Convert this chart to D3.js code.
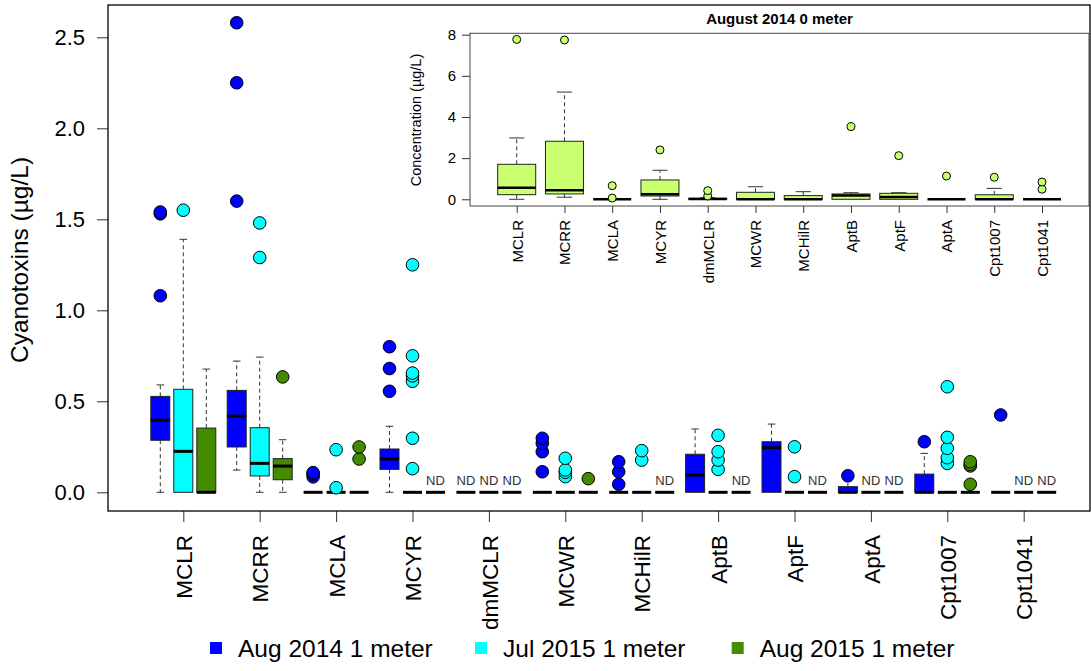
<!DOCTYPE html>
<html>
<head>
<meta charset="utf-8">
<script src="https://cdn.jsdelivr.net/npm/d3@7"></script>
<style>
  body { margin: 0; background: #fff; }
  svg { font-family: "Liberation Sans", Arial, sans-serif; }
</style>
</head>
<body>
<svg id="chart" width="1091" height="671"></svg>
<script>
// Cyanotoxin concentrations, grouped boxplots with an inset for the surface samples.

const toxins = ["MCLR", "MCRR", "MCLA", "MCYR", "dmMCLR", "MCWR", "MCHilR", "AptB", "AptF", "AptA", "Cpt1007", "Cpt1041"];
const seriesNames = ["Aug 2014 1 meter", "Jul 2015 1 meter", "Aug 2015 1 meter"];

// box stats: [lower whisker, q1, median, q3, upper whisker], null = ND
const aug2014Boxes = [
  [0, 0.286, 0.396, 0.527, 0.59],
  [0.122, 0.249, 0.419, 0.56, 0.721],
  [0, 0, 0, 0, 0],
  [0, 0.126, 0.183, 0.238, 0.363],
  null,
  [0, 0, 0, 0, 0],
  [0, 0, 0, 0, 0],
  [0, 0, 0.095, 0.209, 0.348],
  [0, 0, 0.245, 0.278, 0.375],
  [0, 0, 0, 0.031, 0.062],
  [0, 0, 0, 0.1, 0.214],
  [0, 0, 0, 0, 0]
];
const aug2014Outliers = [
  [1.08, 1.53, 1.54], [1.6, 2.25, 2.58], [0.085, 0.1, 0.108], [0.555, 0.68, 0.8], [],
  [0.113, 0.223, 0.269, 0.297], [0.044, 0.113, 0.168], [], [], [0.091], [0.278], [0.425]
];

const jul2015Boxes = [
  [0, 0, 0.225, 0.566, 1.39],
  [0, 0.09, 0.159, 0.355, 0.743],
  [0, 0, 0, 0, 0],
  [0, 0, 0, 0, 0],
  null,
  [0, 0, 0, 0, 0],
  [0, 0, 0, 0, 0],
  [0, 0, 0, 0, 0],
  [0, 0, 0, 0, 0],
  null,
  [0, 0, 0, 0, 0],
  null
];
const jul2015Outliers = [
  [1.55], [1.29, 1.48], [0.025, 0.234], [0.13, 0.297, 0.61, 0.64, 0.655, 0.75, 1.25], [],
  [0.086, 0.11, 0.123, 0.187], [0.177, 0.229], [0.126, 0.177, 0.223, 0.313], [0.086, 0.25], [],
  [0.159, 0.19, 0.242, 0.302, 0.58], []
];

const aug2015Boxes = [
  [0, 0, 0, 0.353, 0.677],
  [0, 0.069, 0.144, 0.185, 0.289],
  [0, 0, 0, 0, 0],
  null,
  null,
  [0, 0, 0, 0, 0],
  null,
  null,
  null,
  null,
  [0, 0, 0, 0, 0],
  null
];
const aug2015Outliers = [
  [], [0.634], [0.183, 0.249], [], [], [0.075], [], [], [], [], [0.044, 0.145, 0.154, 0.168], []
];

// inset: August 2014, 0 meter
const surfaceBoxes = [
  [0, 0.224, 0.565, 1.7, 2.98],
  [0.1, 0.26, 0.44, 2.82, 5.21],
  [0, 0, 0, 0, 0],
  [0, 0.16, 0.24, 0.94, 1.41],
  [0, 0, 0.02, 0.05, 0.08],
  [0, 0, 0, 0.34, 0.61],
  [0, 0, 0, 0.18, 0.37],
  [0, 0, 0.18, 0.26, 0.32],
  [0, 0, 0.11, 0.29, 0.32],
  [0, 0, 0, 0, 0],
  [0, 0, 0, 0.22, 0.53],
  [0, 0, 0, 0, 0]
];
const surfaceOutliers = [
  [7.77], [7.74], [0.06, 0.66], [2.4], [0.16, 0.42], [], [], [3.53], [2.12], [1.13], [1.07], [0.49, 0.84]
];

const mainTicks = [0, 0.5, 1, 1.5, 2, 2.5];
const insetTicks = [0, 2, 4, 6, 8];

const colors = ["#0000ff", "#00ffff", "#458b00"];
const insetColor = "#caff70";

const svg = d3.select("#chart");

const drawBox = (g, cx, w, s, y, fill, medW) => {
  const cap = w * 0.4;
  if (s[4] > s[3]) {
    g.append("line")
      .attr("x1", cx).attr("x2", cx)
      .attr("y1", y(s[3])).attr("y2", y(s[4]))
      .attr("stroke", "#333").attr("stroke-dasharray", "4,3");
    g.append("line")
      .attr("x1", cx - cap / 2).attr("x2", cx + cap / 2)
      .attr("y1", y(s[4])).attr("y2", y(s[4]))
      .attr("stroke", "#333");
  }
  if (s[0] < s[1]) {
    g.append("line")
      .attr("x1", cx).attr("x2", cx)
      .attr("y1", y(s[1])).attr("y2", y(s[0]))
      .attr("stroke", "#333").attr("stroke-dasharray", "4,3");
    g.append("line")
      .attr("x1", cx - cap / 2).attr("x2", cx + cap / 2)
      .attr("y1", y(s[0])).attr("y2", y(s[0]))
      .attr("stroke", "#333");
  }
  if (s[3] > s[1]) {
    g.append("rect")
      .attr("x", cx - w / 2)
      .attr("y", y(s[3]))
      .attr("width", w)
      .attr("height", y(s[1]) - y(s[3]))
      .attr("fill", fill)
      .attr("stroke", "#222");
  }
  g.append("line")
    .attr("x1", cx - w / 2).attr("x2", cx + w / 2)
    .attr("y1", y(s[2])).attr("y2", y(s[2]))
    .attr("stroke", "#000").attr("stroke-width", medW);
};

const drawPoints = (g, cx, vals, y, fill, r) => {
  g.selectAll(null)
    .data(vals)
    .enter()
    .append("circle")
    .attr("cx", cx)
    .attr("cy", (d) => y(d))
    .attr("r", r)
    .attr("fill", fill)
    .attr("stroke", "#000")
    .attr("stroke-width", 1);
};

// ---- main plot ----
const plotLeft = 108, plotRight = 1090, plotTop = 5, plotBottom = 511;

const x = d3.scalePoint().domain(toxins).range([183.3, 1023.7]);
const offset = d3.scalePoint().domain(seriesNames).range([-23, 23]);
const y = d3.scaleLinear().domain([-0.1027, 2.6775]).range([plotBottom, plotTop]);

const mainG = svg.append("g");
const boxSets = [aug2014Boxes, jul2015Boxes, aug2015Boxes];
const outlierSets = [aug2014Outliers, jul2015Outliers, aug2015Outliers];

toxins.forEach((t, i) => {
  seriesNames.forEach((s, j) => {
    const cx = x(t) + offset(s);
    const stats = boxSets[j][i];
    if (stats === null) {
      mainG.append("line")
        .attr("x1", cx - 9.5).attr("x2", cx + 9.5)
        .attr("y1", y(0)).attr("y2", y(0))
        .attr("stroke", "#000").attr("stroke-width", 3);
      mainG.append("text")
        .attr("x", cx)
        .attr("y", y(0) - 7)
        .attr("text-anchor", "middle")
        .attr("font-size", 13)
        .attr("fill", "#333")
        .text("ND");
    } else {
      drawBox(mainG, cx, 19, stats, y, colors[j], 3);
    }
    drawPoints(mainG, cx, outlierSets[j][i], y, colors[j], 6.3);
  });
});

const yAxis = svg.append("g")
  .attr("transform", `translate(${plotLeft},0)`)
  .call(d3.axisLeft(y).tickValues(mainTicks).tickFormat(d3.format(".1f")).tickSize(11).tickPadding(12));
yAxis.select(".domain").remove();
yAxis.selectAll("text").attr("font-size", 22).attr("font-family", "Liberation Sans, Arial, sans-serif").attr("fill", "#000");
yAxis.selectAll("line").attr("stroke", "#333");

const xAxis = svg.append("g")
  .attr("transform", `translate(0,${plotBottom})`)
  .call(d3.axisBottom(x).tickSize(11));
xAxis.select(".domain").remove();
xAxis.selectAll("line").attr("stroke", "#333");
xAxis.selectAll("text")
  .attr("transform", "rotate(-90)")
  .attr("x", -24)
  .attr("y", 0)
  .attr("dy", "0.36em")
  .style("text-anchor", "end")
  .attr("font-size", 22.5)
  .attr("font-family", "Liberation Sans, Arial, sans-serif")
  .attr("fill", "#000");

svg.append("rect")
  .attr("x", plotLeft).attr("y", plotTop)
  .attr("width", plotRight - plotLeft).attr("height", plotBottom - plotTop)
  .attr("fill", "none").attr("stroke", "#000").attr("stroke-width", 1.3);

svg.append("text")
  .attr("transform", `translate(28,260) rotate(-90)`)
  .attr("text-anchor", "middle")
  .attr("font-size", 24.5)
  .text("Cyanotoxins (\u00b5g/L)");

// ---- inset ----
const iLeft = 470, iRight = 1089, iTop = 33.3, iBottom = 206;
const xi = d3.scalePoint().domain(toxins).range([516.7, 1042]);
const yi = d3.scaleLinear().domain([-0.326, 8.066]).range([iBottom, iTop]);

const insetG = svg.append("g");
toxins.forEach((t, i) => {
  drawBox(insetG, xi(t), 38, surfaceBoxes[i], yi, insetColor, 2.5);
  drawPoints(insetG, xi(t), surfaceOutliers[i], yi, insetColor, 4);
});

const yiAxis = svg.append("g")
  .attr("transform", `translate(${iLeft},0)`)
  .call(d3.axisLeft(yi).tickValues(insetTicks).tickSize(8).tickPadding(6));
yiAxis.select(".domain").remove();
yiAxis.selectAll("text").attr("font-size", 15).attr("font-family", "Liberation Sans, Arial, sans-serif").attr("fill", "#000");
yiAxis.selectAll("line").attr("stroke", "#333");

const xiAxis = svg.append("g")
  .attr("transform", `translate(0,${iBottom})`)
  .call(d3.axisBottom(xi).tickSize(7));
xiAxis.select(".domain").remove();
xiAxis.selectAll("line").attr("stroke", "#333");
xiAxis.selectAll("text")
  .attr("transform", "rotate(-90)")
  .attr("x", -14)
  .attr("y", 0)
  .attr("dy", "0.36em")
  .style("text-anchor", "end")
  .attr("font-size", 15)
  .attr("font-family", "Liberation Sans, Arial, sans-serif")
  .attr("fill", "#000");

svg.append("rect")
  .attr("x", iLeft).attr("y", iTop)
  .attr("width", iRight - iLeft).attr("height", iBottom - iTop)
  .attr("fill", "none").attr("stroke", "#444").attr("stroke-width", 1);

svg.append("text")
  .attr("transform", `translate(421,120) rotate(-90)`)
  .attr("text-anchor", "middle")
  .attr("font-size", 14.5)
  .text("Concentration (\u00b5g/L)");

svg.append("text")
  .attr("x", (iLeft + iRight) / 2)
  .attr("y", 23.5)
  .attr("text-anchor", "middle")
  .attr("font-size", 15)
  .attr("font-weight", "bold")
  .text("August 2014 0 meter");

// ---- legend ----
const legendX = [210, 475, 731.7];
const legend = svg.append("g")
  .selectAll("g")
  .data(seriesNames)
  .enter()
  .append("g")
  .attr("transform", (d, i) => `translate(${legendX[i]},642)`);

legend.append("rect")
  .attr("width", 12).attr("height", 12)
  .attr("fill", (d, i) => colors[i]);

legend.append("text")
  .attr("x", 28)
  .attr("y", 15)
  .attr("font-size", 24.5)
  .text((d) => d);
</script>
</body>
</html>
